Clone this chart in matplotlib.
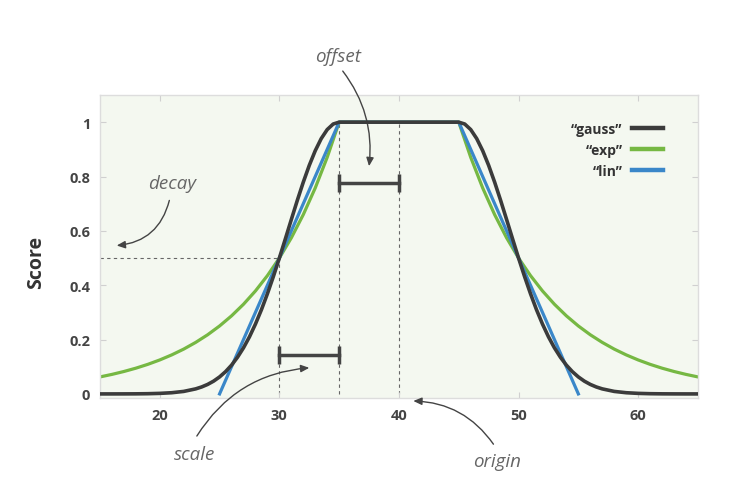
import matplotlib
matplotlib.use("Agg")
import matplotlib.pyplot as plt

plt.rcParams['font.family'] = ['Open Sans', 'DejaVu Sans']

# decay curves (origin 40, offset 5, scale 5, decay 0.5)
gauss_x = [15, 16, 17, 18, 19, 20, 21, 22, 23,
           23.5, 24, 24.5, 25, 25.5, 26, 26.5, 27, 27.5, 28, 28.5, 29,
           29.5, 30, 30.5, 31, 31.5, 32, 32.5, 33, 33.5, 34, 34.5, 35,
           36, 37, 38, 39, 40, 41, 42, 43, 44,
           45, 45.5, 46, 46.5, 47, 47.5, 48, 48.5, 49, 49.5, 50, 50.5,
           51, 51.5, 52, 52.5, 53, 53.5, 54, 54.5, 55, 55.5, 56, 56.5,
           57, 58, 59, 60, 61, 62, 63, 64, 65]
gauss_y = [0.0, 0.0, 0.0001, 0.0003, 0.0008, 0.0020, 0.0044, 0.0092, 0.0185,
           0.0256, 0.0349, 0.0470, 0.0625, 0.0819, 0.1058, 0.1349, 0.1696, 0.2102, 0.2571, 0.3099, 0.3686,
           0.4323, 0.5, 0.5704, 0.6417, 0.7121, 0.7792, 0.8409, 0.8950, 0.9395, 0.9727, 0.9931, 1.0,
           1, 1, 1, 1, 1, 1, 1, 1, 1,
           1.0, 0.9931, 0.9727, 0.9395, 0.8950, 0.8409, 0.7792, 0.7121, 0.6417, 0.5704, 0.5, 0.4323,
           0.3686, 0.3099, 0.2571, 0.2102, 0.1696, 0.1349, 0.1058, 0.0819, 0.0625, 0.0470, 0.0349, 0.0256,
           0.0185, 0.0092, 0.0044, 0.0020, 0.0008, 0.0003, 0.0001, 0.0, 0.0]

exp_x = list(range(15, 66))
exp_y = [0.0625, 0.0718, 0.0825, 0.0947, 0.1088, 0.125, 0.1436, 0.1649, 0.1895, 0.2176,
         0.25, 0.2872, 0.3299, 0.3789, 0.4353, 0.5, 0.5743, 0.6598, 0.7579, 0.8706,
         1, 1, 1, 1, 1, 1, 1, 1, 1, 1, 1,
         0.8706, 0.7579, 0.6598, 0.5743, 0.5, 0.4353, 0.3789, 0.3299, 0.2872, 0.25,
         0.2176, 0.1895, 0.1649, 0.1436, 0.125, 0.1088, 0.0947, 0.0825, 0.0718, 0.0625]

lin_x = [25, 35, 45, 55]
lin_y = [0, 1, 1, 0]

labels = ['\u201cgauss\u201d', '\u201cexp\u201d', '\u201clin\u201d']
x_ticks = [20, 30, 40, 50, 60]
y_ticks = [0, 0.2, 0.4, 0.6, 0.8, 1]

fig = plt.figure(figsize=(7.5, 5.02), dpi=100)
ax = fig.add_axes([0.1333, 0.2052, 0.7973, 0.6036])
ax.set_facecolor('#f4f8f0')

# guide lines
dash = dict(color='#666666', lw=0.8, ls=(0, (3, 3)), zorder=1)
ax.plot([15, 30], [0.5, 0.5], **dash)
ax.plot([30, 30], [0, 0.5], **dash)
ax.plot([35, 35], [0, 1], **dash)
ax.plot([40, 40], [0, 1], **dash)

ax.plot(exp_x, exp_y, color='#76b843', lw=2.3, zorder=2, label=labels[1])
ax.plot(lin_x, lin_y, color='#3a87c9', lw=2.3, zorder=3, label=labels[2])
ax.plot(gauss_x, gauss_y, color='#3b3b3b', lw=2.6, zorder=4, label=labels[0])

# scale / offset bars
bar = dict(color='#444444', lw=2.5, marker='|', ms=13, mew=2.5, zorder=5)
ax.plot([30, 35], [0.145, 0.145], **bar)
ax.plot([35, 40], [0.775, 0.775], **bar)

# annotations
txt = dict(fontsize=13.5, style='italic', color='#666666', ha='center', va='center')
ax.text(34.9, 1.244, 'offset', **txt)
ax.text(21.0, 0.775, 'decay', **txt)
ax.text(22.9, -0.221, 'scale', **txt)
ax.text(48.2, -0.247, 'origin', **txt)

arrows = [((35.3, 1.188), (37.5, 0.838), -0.2),
          ((20.8, 0.712), (16.4, 0.546), -0.35),
          ((23.1, -0.155), (32.5, 0.096), -0.25),
          ((47.9, -0.185), (41.2, -0.026), 0.25)]
for start, end, rad in arrows:
    ax.annotate('', xy=end, xytext=start, annotation_clip=False,
                arrowprops=dict(arrowstyle='-|>,head_length=0.5,head_width=0.22',
                                color='#444444', lw=1,
                                connectionstyle='arc3,rad=%s' % rad,
                                shrinkA=0, shrinkB=0))

ax.set_xlim(15, 65)
ax.set_ylim(-0.015, 1.1)
ax.set_xticks(x_ticks)
ax.set_yticks(y_ticks)
ax.set_yticklabels(['0', '0.2', '0.4', '0.6', '0.8', '1'])
ax.tick_params(direction='in', length=4, color='#d0d0d0', top=True, right=True,
               labelsize=10.5, labelcolor='#444444', pad=7)
for lab in ax.get_xticklabels() + ax.get_yticklabels():
    lab.set_fontweight('bold')
for s in ax.spines.values():
    s.set_color('#dddddd')
    s.set_linewidth(1)

ax.set_ylabel('Score', fontsize=14, fontweight='bold', color='#333333')
ax.yaxis.set_label_coords(-0.09, 0.45)

handles, labs = ax.get_legend_handles_labels()
order = [2, 0, 1]
leg = ax.legend([handles[i] for i in order], [labs[i] for i in order],
                loc='upper right', bbox_to_anchor=(0.9415, 0.91),
                frameon=False, markerfirst=False, fontsize=10,
                handlelength=2.2, handletextpad=0.7, labelspacing=0.5,
                borderpad=0, borderaxespad=0)
for t in leg.get_texts():
    t.set_fontweight('bold')
    t.set_color('#333333')
for h in leg.legend_handles:
    h.set_linewidth(3.2)

fig.savefig('out.png', dpi=100)
